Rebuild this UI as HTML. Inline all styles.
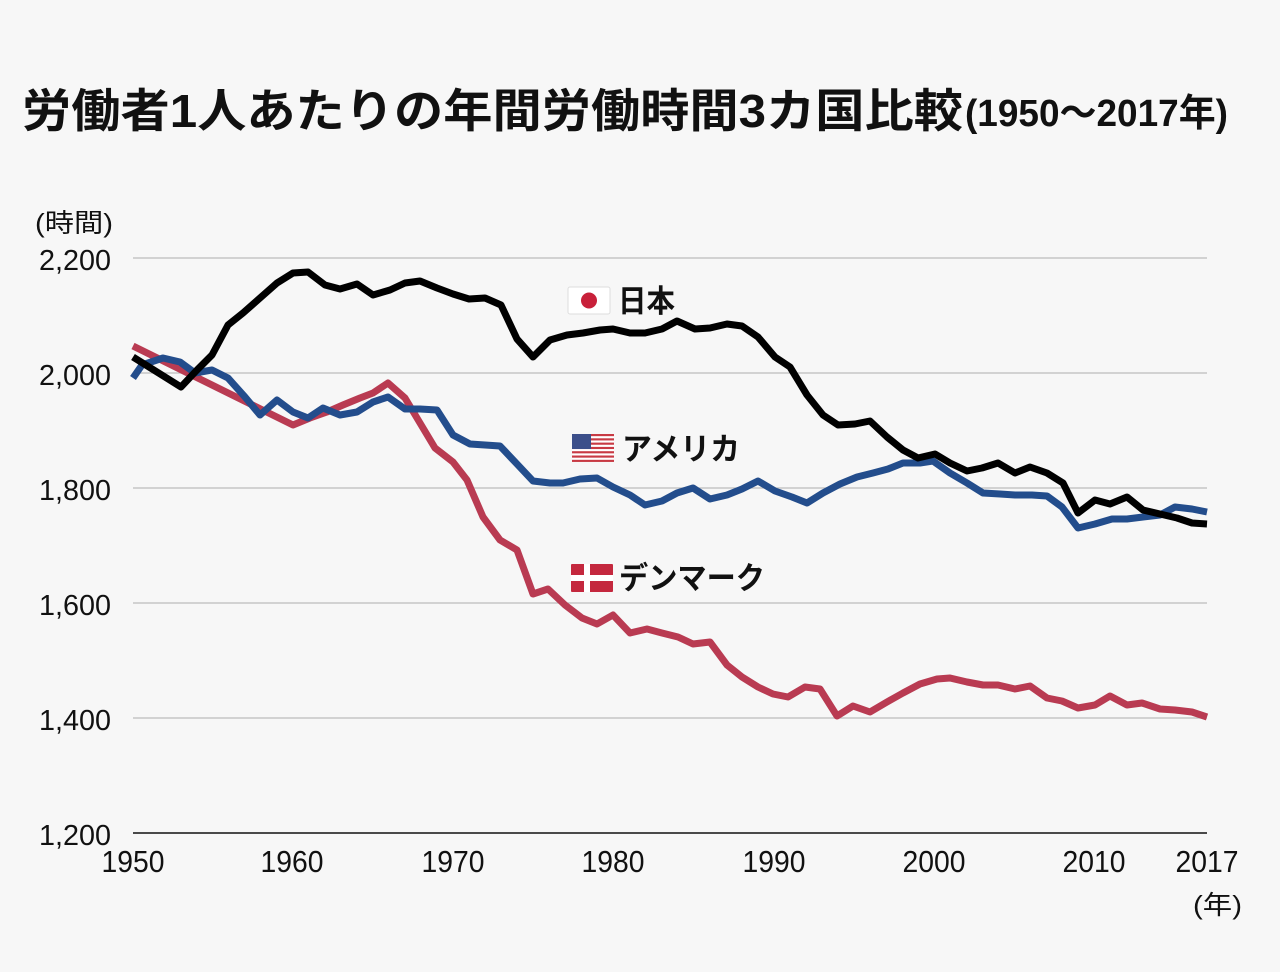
<!DOCTYPE html>
<html><head><meta charset="utf-8"><style>
html,body{margin:0;padding:0;background:#f7f7f7;}
svg{display:block;}
</style></head><body>
<svg width="1280" height="972" viewBox="0 0 1280 972" xmlns="http://www.w3.org/2000/svg">
<rect width="1280" height="972" fill="#f7f7f7"/>
<!-- title -->
<text x="22" y="127" font-family="'Liberation Sans','Noto Sans CJK JP',sans-serif" font-weight="bold" font-size="46" fill="#111" textLength="941" lengthAdjust="spacingAndGlyphs">労働者1人あたりの年間労働時間3カ国比較</text>
<text x="965" y="126" font-family="'Liberation Sans','Noto Sans CJK JP',sans-serif" font-weight="bold" font-size="38" fill="#111" textLength="263" lengthAdjust="spacingAndGlyphs">(1950〜2017年)</text>

<!-- gridlines -->
<g stroke="#bdbdbd" stroke-width="1.2">
<line x1="133" y1="258" x2="1207" y2="258"/>
<line x1="133" y1="373" x2="1207" y2="373"/>
<line x1="133" y1="488" x2="1207" y2="488"/>
<line x1="133" y1="603" x2="1207" y2="603"/>
<line x1="133" y1="718" x2="1207" y2="718"/>
</g>
<line x1="133" y1="833" x2="1207" y2="833" stroke="#111" stroke-width="1.5"/>

<!-- y axis labels -->
<g font-family="'Liberation Sans','Noto Sans CJK JP',sans-serif" font-size="29" fill="#111" text-anchor="end">
<text x="111" y="270" textLength="72" lengthAdjust="spacingAndGlyphs">2,200</text>
<text x="111" y="385" textLength="72" lengthAdjust="spacingAndGlyphs">2,000</text>
<text x="111" y="500" textLength="72" lengthAdjust="spacingAndGlyphs">1,800</text>
<text x="111" y="615" textLength="72" lengthAdjust="spacingAndGlyphs">1,600</text>
<text x="111" y="730" textLength="72" lengthAdjust="spacingAndGlyphs">1,400</text>
<text x="111" y="845" textLength="72" lengthAdjust="spacingAndGlyphs">1,200</text>
</g>
<text x="35" y="232" font-family="'Liberation Sans','Noto Sans CJK JP',sans-serif" font-size="26" fill="#111" textLength="78" lengthAdjust="spacingAndGlyphs">(時間)</text>

<!-- x axis labels -->
<g font-family="'Liberation Sans','Noto Sans CJK JP',sans-serif" font-size="31" fill="#111" text-anchor="middle">
<text x="133" y="872" textLength="63" lengthAdjust="spacingAndGlyphs">1950</text>
<text x="292" y="872" textLength="63" lengthAdjust="spacingAndGlyphs">1960</text>
<text x="453" y="872" textLength="63" lengthAdjust="spacingAndGlyphs">1970</text>
<text x="613" y="872" textLength="63" lengthAdjust="spacingAndGlyphs">1980</text>
<text x="774" y="872" textLength="63" lengthAdjust="spacingAndGlyphs">1990</text>
<text x="934" y="872" textLength="63" lengthAdjust="spacingAndGlyphs">2000</text>
<text x="1094" y="872" textLength="63" lengthAdjust="spacingAndGlyphs">2010</text>
<text x="1207" y="872" textLength="63" lengthAdjust="spacingAndGlyphs">2017</text>
</g>
<text x="1193" y="914" font-family="'Liberation Sans','Noto Sans CJK JP',sans-serif" font-size="26" fill="#111" textLength="49" lengthAdjust="spacingAndGlyphs">(年)</text>

<!-- series -->
<g fill="none" stroke-width="7" stroke-linejoin="round" stroke-linecap="butt">
<polyline stroke="#b93b52" points="133,346 293,425 310,418 327,412 343,405 360,398 373,393 388,383 405,398 420,423 435,448 453,462 467,480 483,517 500,540 517,550 533,594 548,589 565,605 582,618 597,624 613,615 630,633 647,629 662,633 678,637 693,644 710,642 727,665 742,677 758,687 773,694 788,697 805,687 820,689 837,716 853,706 870,712 887,702 903,693 920,684 937,679 950,678 967,682 983,685 998,685 1015,689 1030,686 1047,698 1062,701 1078,708 1095,705 1110,696 1127,705 1142,703 1160,709 1175,710 1192,712 1207,717"/>
<polyline stroke="#234d8c" points="133,378 142,365 163,358 180,362 195,373 212,370 228,378 245,397 260,415 277,400 293,412 308,418 323,408 340,415 357,412 373,402 388,397 405,409 420,409 437,410 453,435 470,444 500,446 517,464 533,481 550,483 563,483 580,479 597,478 613,487 630,495 645,505 662,501 677,493 693,488 710,499 727,495 742,489 758,481 775,491 792,497 807,503 823,493 840,484 857,477 873,473 888,469 903,463 920,463 933,461 950,473 967,483 983,493 1000,494 1015,495 1032,495 1047,496 1062,507 1078,528 1095,524 1112,519 1127,519 1143,517 1160,515 1175,507 1192,509 1207,512"/>
<polyline stroke="#000" points="133,357 181,387 197,370 212,355 228,325 243,313 260,298 277,283 293,273 308,272 325,285 340,289 357,284 373,295 390,290 405,283 420,281 437,288 453,294 469,299 485,298 501,305 517,339 533,357 550,340 567,335 583,333 600,330 613,329 630,333 645,333 662,329 677,321 695,329 710,328 727,324 742,326 758,337 775,357 790,367 807,395 823,415 838,425 855,424 870,421 887,437 903,450 918,458 935,454 950,463 967,471 982,468 998,463 1015,473 1030,467 1047,473 1063,483 1078,513 1095,500 1110,504 1127,497 1143,510 1160,514 1177,518 1192,523 1207,524"/>
</g>

<!-- Japan label -->
<rect x="568" y="287" width="42" height="27" fill="#fff" stroke="#ddd" stroke-width="1" rx="2"/>
<circle cx="589" cy="300.5" r="8" fill="#c8203a"/>
<text x="618" y="312" font-family="'Liberation Sans','Noto Sans CJK JP',sans-serif" font-weight="bold" font-size="31" fill="#111" textLength="57" lengthAdjust="spacingAndGlyphs">日本</text>

<!-- US label -->
<g>
<rect x="572" y="434" width="42" height="28" fill="#fff"/>
<g fill="#c83a44">
<rect x="572" y="434" width="42" height="2.15"/>
<rect x="572" y="438.3" width="42" height="2.15"/>
<rect x="572" y="442.6" width="42" height="2.15"/>
<rect x="572" y="446.9" width="42" height="2.15"/>
<rect x="572" y="451.2" width="42" height="2.15"/>
<rect x="572" y="455.5" width="42" height="2.15"/>
<rect x="572" y="459.8" width="42" height="2.15"/>
</g>
<rect x="572" y="434" width="19" height="15" fill="#3c4f8a"/>
</g>
<text x="622" y="460" font-family="'Liberation Sans','Noto Sans CJK JP',sans-serif" font-weight="bold" font-size="31" fill="#111" textLength="118" lengthAdjust="spacingAndGlyphs">アメリカ</text>

<!-- Denmark label -->
<rect x="571" y="564" width="42" height="28" fill="#c4283e" rx="1"/>
<rect x="584" y="564" width="6" height="28" fill="#fff"/>
<rect x="571" y="575" width="42" height="6" fill="#fff"/>
<text x="619" y="589" font-family="'Liberation Sans','Noto Sans CJK JP',sans-serif" font-weight="bold" font-size="31" fill="#111" textLength="146" lengthAdjust="spacingAndGlyphs">デンマーク</text>
</svg>
</body></html>
